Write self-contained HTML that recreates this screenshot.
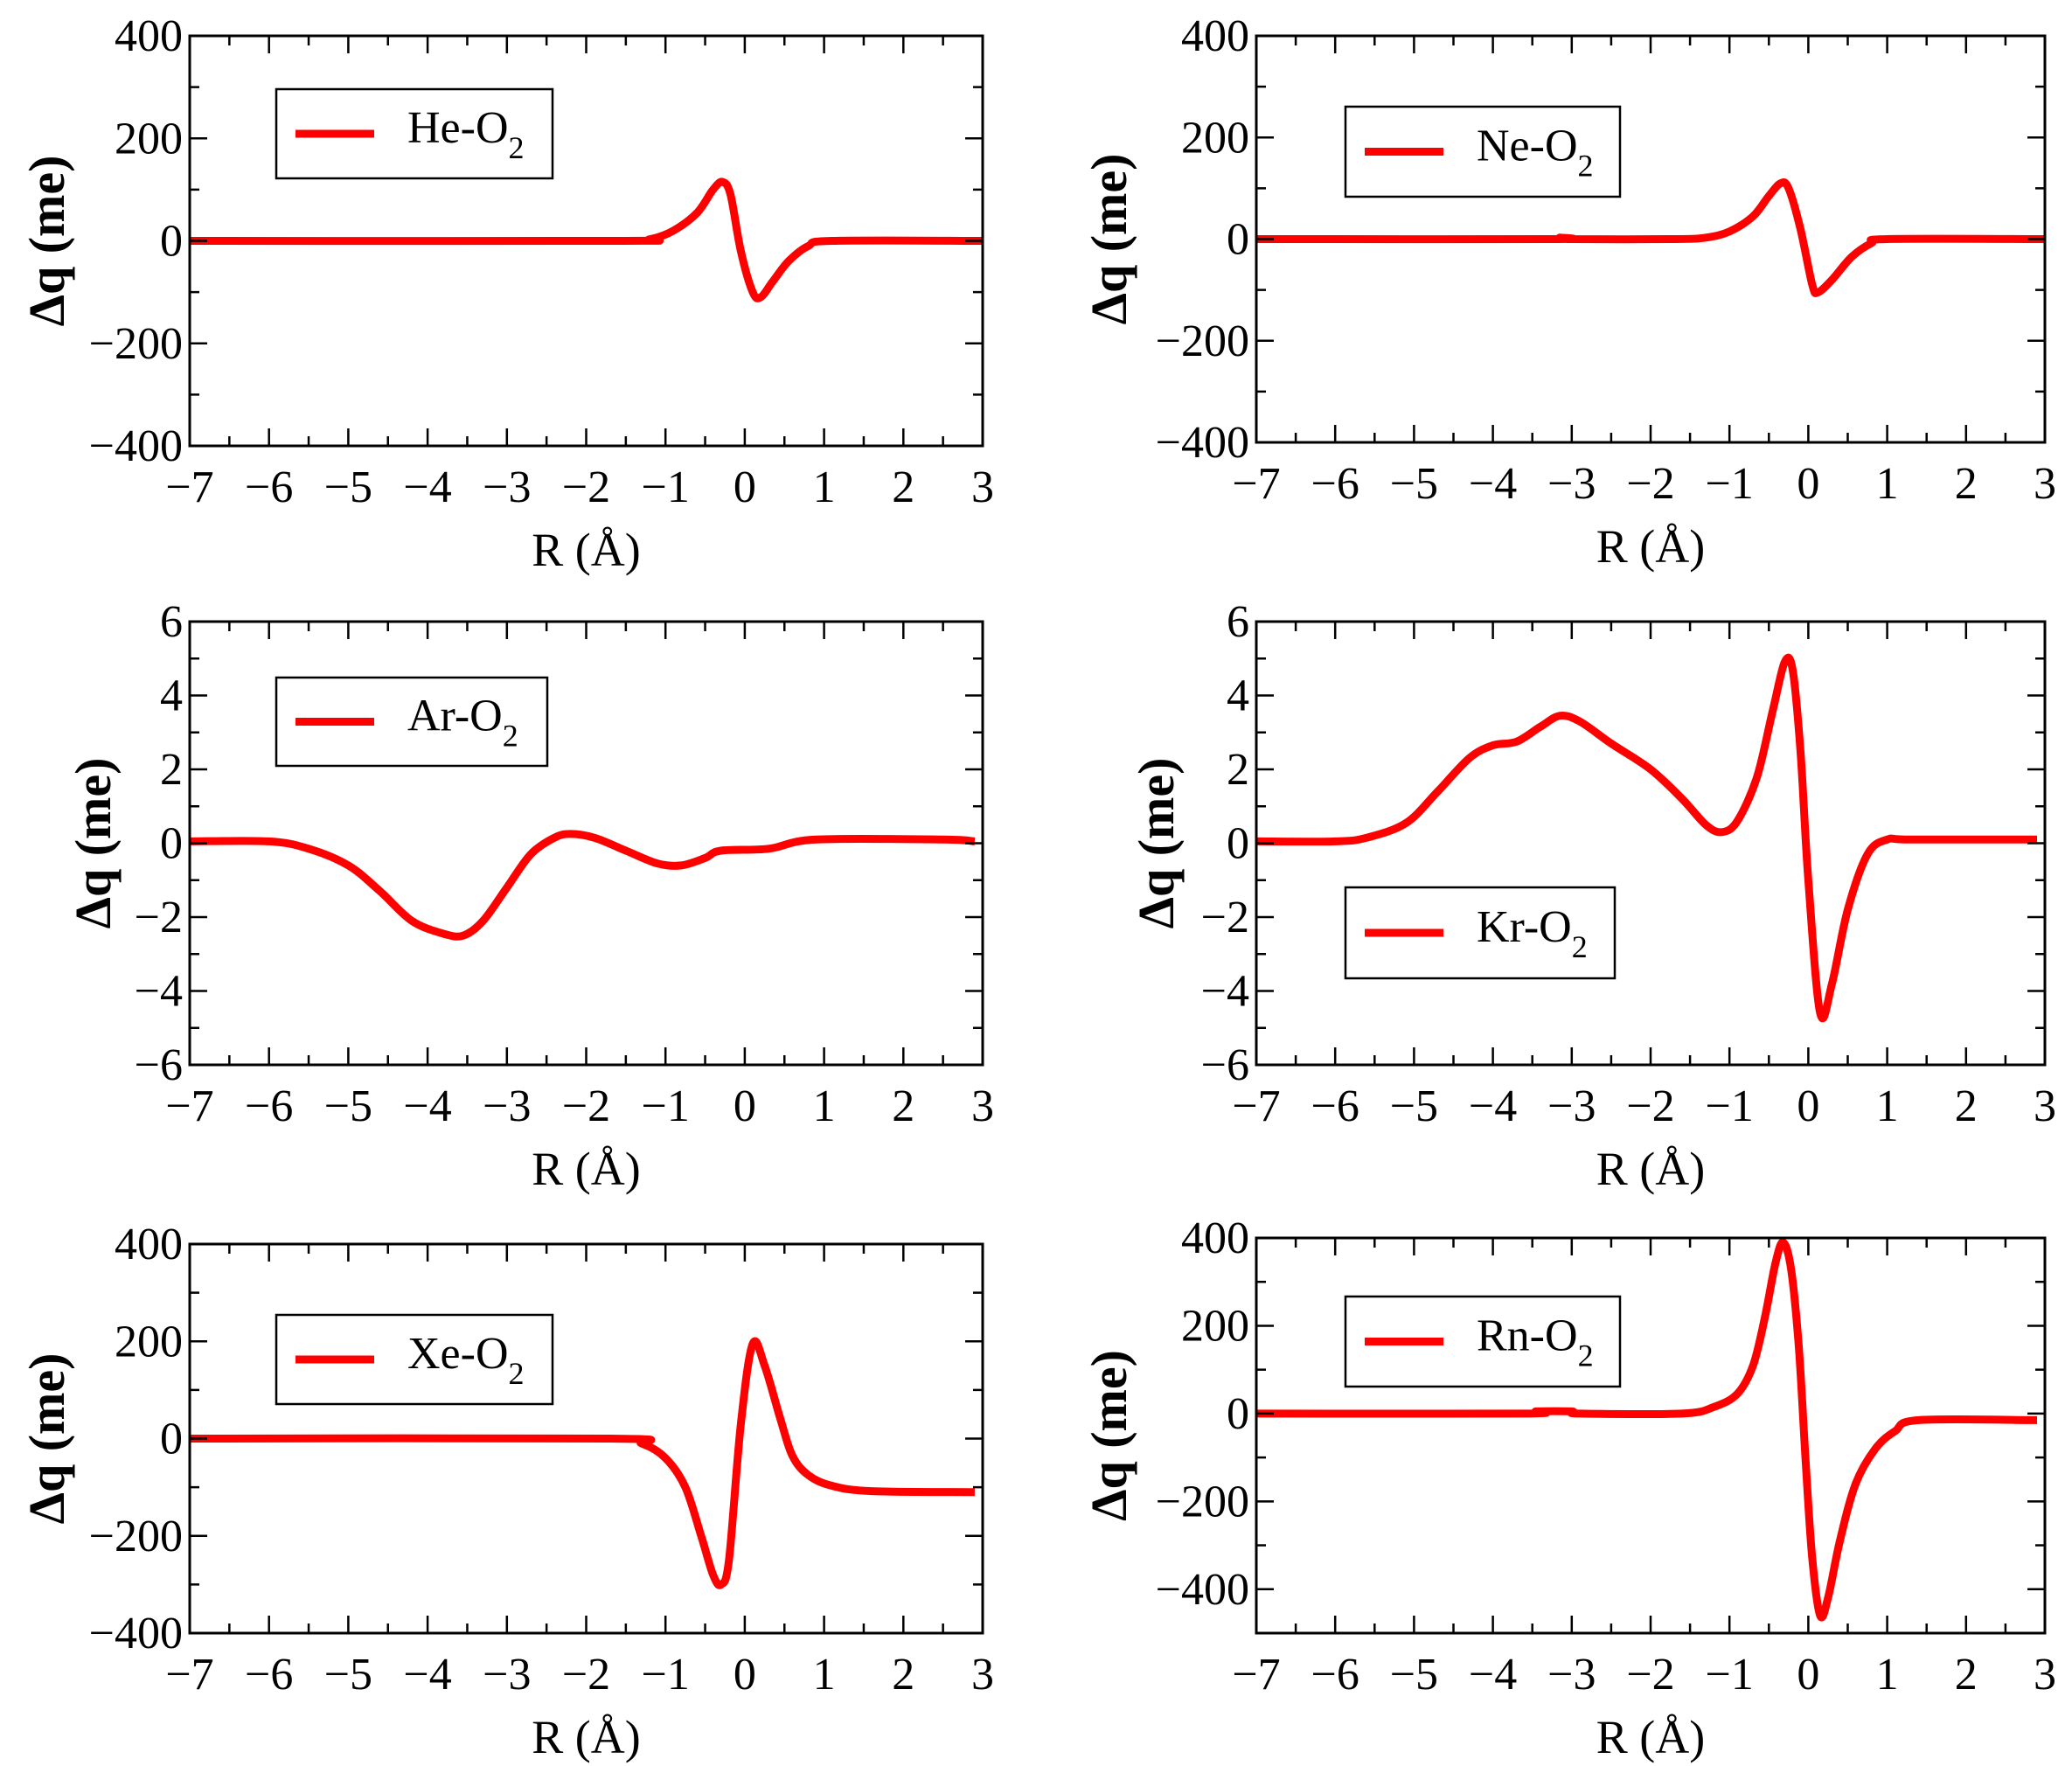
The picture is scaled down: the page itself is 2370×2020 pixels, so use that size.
<!DOCTYPE html>
<html><head><meta charset="utf-8"><style>
html,body{margin:0;padding:0;background:#fff;}
svg{display:block;}
text{font-family:"Liberation Serif",serif;fill:#000;}
</style></head><body>
<svg id="s" width="2370" height="2020" xmlns="http://www.w3.org/2000/svg"></svg>
<script>
const S=document.getElementById('s');let h='';
const panels=[
 {x0:217,x1:1124,y0:41,y1:510,ymin:-400,ymax:400,ymaj:200,ymin2:100,lab:'He',ylx:53,leg:[316,102,632,204],
  d:[[-7,0],[-1.6,0],[-1.2,3],[-0.9,20],[-0.6,55],[-0.4,100],[-0.28,115],[-0.18,90],[-0.05,-20],[0.1,-100],[0.2,-110],[0.35,-80],[0.55,-40],[0.8,-10],[1.1,0],[3,0]]},
 {x0:1437,x1:2339,y0:41,y1:506,ymin:-400,ymax:400,ymaj:200,ymin2:100,lab:'Ne',ylx:1268,leg:[1539,122,1853,225],
  d:[[-7,0],[-3.3,0],[-3.15,3],[-3.0,0],[-1.7,0],[-1.3,3],[-1.0,15],[-0.7,45],[-0.5,85],[-0.35,110],[-0.25,100],[-0.1,20],[0.05,-90],[0.12,-105],[0.3,-80],[0.55,-35],[0.8,-8],[1.0,0],[3,0]]},
 {x0:217,x1:1124,y0:711,y1:1218,ymin:-6,ymax:6,ymaj:2,ymin2:1,lab:'Ar',ylx:106,leg:[316,775,626,876],
  d:[[-7,0.05],[-6,0.05],[-5.5,-0.15],[-5,-0.6],[-4.6,-1.3],[-4.2,-2.1],[-3.8,-2.45],[-3.55,-2.5],[-3.3,-2.1],[-3.0,-1.2],[-2.7,-0.3],[-2.4,0.15],[-2.2,0.25],[-1.9,0.15],[-1.5,-0.2],[-1.1,-0.55],[-0.8,-0.6],[-0.5,-0.4],[-0.3,-0.2],[0.3,-0.15],[0.9,0.1],[2.5,0.1],[2.9,0.05]]},
 {x0:1437,x1:2339,y0:711,y1:1218,ymin:-6,ymax:6,ymaj:2,ymin2:1,lab:'Kr',ylx:1322,leg:[1539,1015,1847,1119],
  d:[[-7,0.05],[-6,0.05],[-5.6,0.15],[-5.1,0.55],[-4.7,1.4],[-4.3,2.3],[-4.0,2.65],[-3.7,2.75],[-3.4,3.15],[-3.15,3.45],[-2.9,3.3],[-2.5,2.7],[-2.0,2.0],[-1.6,1.2],[-1.3,0.5],[-1.1,0.3],[-0.9,0.6],[-0.65,1.8],[-0.45,3.6],[-0.3,4.9],[-0.2,4.7],[-0.1,2.5],[0.0,-1.0],[0.15,-4.6],[0.3,-3.8],[0.5,-1.8],[0.75,-0.3],[1.0,0.1],[1.3,0.1],[2.9,0.1]]},
 {x0:217,x1:1124,y0:1423,y1:1868,ymin:-400,ymax:400,ymaj:200,ymin2:100,lab:'Xe',ylx:53,leg:[316,1504,632,1606],
  d:[[-7,0],[-1.7,0],[-1.3,-10],[-1.0,-40],[-0.75,-100],[-0.55,-200],[-0.4,-280],[-0.3,-300],[-0.2,-250],[-0.05,30],[0.1,195],[0.25,150],[0.45,40],[0.6,-35],[0.8,-75],[1.1,-97],[1.6,-108],[2.9,-110]]},
 {x0:1437,x1:2339,y0:1416,y1:1868,ymin:-500,ymax:400,ymaj:200,ymin2:100,lab:'Rn',ylx:1268,leg:[1539,1483,1853,1586],
  d:[[-7,0],[-3.6,0],[-3.45,5],[-3.0,5],[-2.9,0],[-1.6,0],[-1.2,15],[-0.9,45],[-0.7,110],[-0.55,220],[-0.42,340],[-0.32,390],[-0.22,330],[-0.12,150],[-0.03,-120],[0.05,-330],[0.15,-460],[0.25,-420],[0.4,-290],[0.6,-160],[0.85,-80],[1.1,-40],[1.4,-15],[2.9,-15]]}
];
function cr(pts){
 let p='M'+pts[0][0].toFixed(1)+','+pts[0][1].toFixed(1);
 for(let i=0;i<pts.length-1;i++){
  const a=pts[Math.max(0,i-1)],b=pts[i],c=pts[i+1],d=pts[Math.min(pts.length-1,i+2)];
  const c1=[b[0]+(c[0]-a[0])/6,b[1]+(c[1]-a[1])/6],c2=[c[0]-(d[0]-b[0])/6,c[1]-(d[1]-b[1])/6];
  p+=`C${c1[0].toFixed(1)},${c1[1].toFixed(1)} ${c2[0].toFixed(1)},${c2[1].toFixed(1)} ${c[0].toFixed(1)},${c[1].toFixed(1)}`;
 }return p;}
for(const P of panels){
 const X=v=>P.x0+(v+7)/10*(P.x1-P.x0), Y=v=>P.y1-(v-P.ymin)/(P.ymax-P.ymin)*(P.y1-P.y0);
 h+=`<path d="${cr(P.d.map(q=>[X(q[0]),Y(q[1])]))}" fill="none" stroke="#f00" stroke-width="9" stroke-linejoin="round"/>`;
 for(let v=-7;v<=3.001;v+=0.5){const x=X(v),L=(Math.abs(v-Math.round(v))<1e-6)?20:11;
  h+=`<line x1="${x}" y1="${P.y1}" x2="${x}" y2="${P.y1-L}" stroke="#000" stroke-width="2.5"/><line x1="${x}" y1="${P.y0}" x2="${x}" y2="${P.y0+L}" stroke="#000" stroke-width="2.5"/>`;
  if(L==20){const t=Math.round(v);h+=`<text x="${x}" y="${P.y1+64}" font-size="52" text-anchor="middle">${t<0?'−'+(-t):t}</text>`;}}
 for(let v=P.ymin;v<=P.ymax+1e-6;v+=P.ymin2){const y=Y(v),maj=(Math.abs(v/P.ymaj-Math.round(v/P.ymaj))<1e-6)&&v>=-400,L=maj?20:11;
  h+=`<line x1="${P.x0}" y1="${y}" x2="${P.x0+L}" y2="${y}" stroke="#000" stroke-width="2.5"/><line x1="${P.x1}" y1="${y}" x2="${P.x1-L}" y2="${y}" stroke="#000" stroke-width="2.5"/>`;
  if(maj){h+=`<text x="${P.x0-8}" y="${y+17}" font-size="52" text-anchor="end">${v<0?'−'+(-v):v}</text>`;}}
 h+=`<rect x="${P.x0}" y="${P.y0}" width="${P.x1-P.x0}" height="${P.y1-P.y0}" fill="none" stroke="#000" stroke-width="3"/>`;
 const cx=(P.x0+P.x1)/2, cy=(P.y0+P.y1)/2;
 h+=`<text x="${cx}" y="${P.y1+137}" font-size="54" text-anchor="middle">R (Å)</text>`;
 h+=`<text transform="translate(${P.ylx+20},${cy}) rotate(-90)" font-size="58" font-weight="bold" text-anchor="middle">Δq (me)</text>`;
 const [lx0,ly0,lx1,ly1]=P.leg,lm=(ly0+ly1)/2;
 h+=`<rect x="${lx0}" y="${ly0}" width="${lx1-lx0}" height="${ly1-ly0}" fill="#fff" stroke="#000" stroke-width="2.5"/>`;
 h+=`<line x1="${lx0+22}" y1="${lm}" x2="${lx0+112}" y2="${lm}" stroke="#f00" stroke-width="9"/>`;
 h+=`<text x="${lx0+150}" y="${lm+10}" font-size="52">${P.lab}-O<tspan font-size="36" dy="18">2</tspan></text>`;
}
S.innerHTML=h;
</script>
</body></html>
